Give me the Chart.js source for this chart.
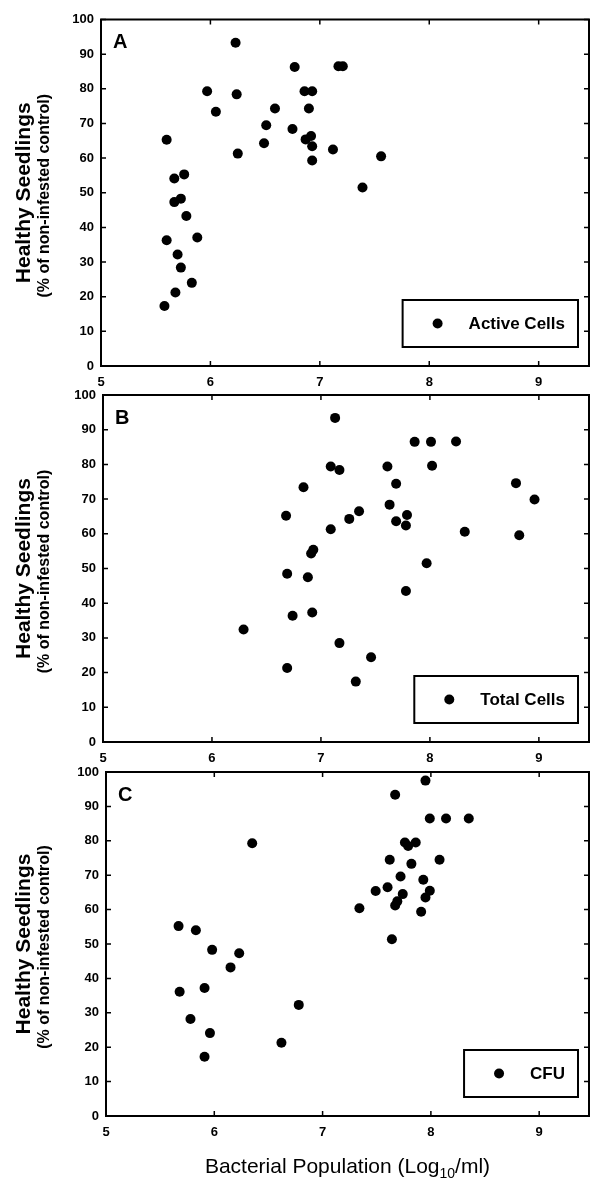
<!DOCTYPE html>
<html>
<head>
<meta charset="utf-8">
<script src="https://cdn.jsdelivr.net/npm/chart.js@4.4.1/dist/chart.umd.min.js"></script>
<style>
  html, body { margin: 0; padding: 0; background: #fff; }
  #wrap { position: relative; width: 594px; height: 1179px; }
  #wrap canvas { position: absolute; left: 0; top: 0; }
</style>
</head>
<body>
<div id="wrap">
  <canvas id="panelA" width="594" height="1179"></canvas>
  <canvas id="panelB" width="594" height="1179"></canvas>
  <canvas id="panelC" width="594" height="1179"></canvas>
</div>
<script>
// tick values shared by the three panels
const xTicks = [5, 6, 7, 8, 9];
const yTicks = [0, 10, 20, 30, 40, 50, 60, 70, 80, 90, 100];

// A - active cells: log10 cells/ml vs healthy seedlings (%)
const activeX = [6.23, 6.77, 7.17, 7.21, 5.97, 6.24, 6.86, 6.93, 6.05, 6.59, 6.90, 6.51,
  6.75, 5.60, 6.49, 6.87, 6.92, 6.93, 6.25, 7.12, 7.56, 6.93, 7.39, 5.76, 5.67, 5.67,
  5.73, 5.78, 5.88, 5.60, 5.70, 5.73, 5.83, 5.68, 5.58];
const activeY = [93.3, 86.3, 86.5, 86.5, 79.3, 78.4, 79.3, 79.3, 73.4, 74.3, 74.3, 69.5,
  68.4, 65.3, 64.3, 65.4, 66.4, 63.4, 61.3, 62.5, 60.5, 59.3, 51.5, 55.3, 54.1, 47.3,
  48.3, 43.3, 37.1, 36.3, 32.2, 28.4, 24.0, 21.2, 17.3];

// B - total cells
const totalX = [7.13, 7.86, 8.01, 8.24, 7.09, 7.17, 7.61, 8.02, 6.84, 7.69, 8.79, 8.96,
  6.68, 7.26, 7.35, 7.09, 7.63, 7.69, 7.79, 7.78, 8.32, 8.82, 6.93, 6.91, 7.97, 6.69,
  6.88, 7.78, 6.74, 6.92, 6.29, 7.17, 7.46, 6.69, 7.32];
const totalY = [93.4, 86.5, 86.5, 86.6, 79.4, 78.4, 79.4, 79.6, 73.4, 74.4, 74.6, 69.9,
  65.2, 64.3, 66.5, 61.3, 68.4, 63.6, 65.4, 62.4, 60.6, 59.6, 55.4, 54.3, 51.5, 48.5,
  47.5, 43.5, 36.4, 37.3, 32.4, 28.5, 24.4, 21.3, 17.4];

// C - colony forming units
const cfuX = [7.95, 7.67, 7.99, 8.14, 8.35, 6.35, 7.76, 7.79, 7.86, 7.62, 8.08, 7.82,
  7.72, 7.93, 7.49, 7.60, 7.74, 7.99, 7.95, 7.69, 7.67, 7.34, 7.91, 7.64, 5.67, 5.83,
  5.98, 6.23, 6.15, 5.68, 5.91, 6.78, 5.78, 5.96, 6.62, 5.91];
const cfuY = [97.5, 93.4, 86.5, 86.5, 86.5, 79.3, 79.5, 78.5, 79.5, 74.5, 74.5, 73.3,
  69.6, 68.7, 65.4, 66.5, 64.5, 65.5, 63.5, 62.4, 61.2, 60.4, 59.4, 51.4, 55.2, 54.0,
  48.3, 47.3, 43.2, 36.1, 37.2, 32.3, 28.2, 24.1, 21.3, 17.2];

const FONT = 'Liberation Sans, Arial, sans-serif';
const W = 594, H = 1179;

// frame with inward ticks, panel letter, y titles, legend box (and x title on last panel)
const framePlugin = {
  id: 'panelFrame',
  afterDraw(chart, args, opts) {
    const { ctx, chartArea: a } = chart;
    const x = chart.scales.x, y = chart.scales.y;
    ctx.save();
    ctx.strokeStyle = '#000';
    ctx.fillStyle = '#000';
    ctx.lineWidth = 2;
    ctx.strokeRect(a.left, a.top, a.right - a.left, a.bottom - a.top);

    ctx.lineWidth = 1.5;
    ctx.beginPath();
    xTicks.forEach(v => {
      const px = x.getPixelForValue(v);
      ctx.moveTo(px, a.bottom); ctx.lineTo(px, a.bottom - 5);
      ctx.moveTo(px, a.top); ctx.lineTo(px, a.top + 5);
    });
    yTicks.forEach(v => {
      const py = y.getPixelForValue(v);
      ctx.moveTo(a.left, py); ctx.lineTo(a.left + 5, py);
      ctx.moveTo(a.right, py); ctx.lineTo(a.right - 5, py);
    });
    ctx.stroke();

    // panel letter
    ctx.font = 'bold 20px ' + FONT;
    ctx.textAlign = 'left';
    ctx.textBaseline = 'middle';
    ctx.fillText(opts.letter, a.left + 12, a.top + 23);

    // rotated y titles
    const cy = (a.top + a.bottom) / 2;
    ctx.save();
    ctx.translate(24, cy);
    ctx.rotate(-Math.PI / 2);
    ctx.textAlign = 'center';
    ctx.font = 'bold 21px ' + FONT;
    ctx.fillText('Healthy Seedlings', 0, 0);
    ctx.restore();
    ctx.save();
    ctx.translate(45, cy + 3);
    ctx.rotate(-Math.PI / 2);
    ctx.textAlign = 'center';
    ctx.font = 'bold 16px ' + FONT;
    ctx.fillText('(% of non-infested control)', 0, 0);
    ctx.restore();

    // legend box
    ctx.font = 'bold 17px ' + FONT;
    const tw = ctx.measureText(opts.label).width;
    const bw = 66 + tw + 13, bh = 47;
    const bx = a.right - 11 - bw, by = a.bottom - 19 - bh;
    ctx.lineWidth = 2;
    ctx.strokeRect(bx, by, bw, bh);
    ctx.beginPath();
    ctx.arc(bx + 35, by + bh / 2, 5, 0, Math.PI * 2);
    ctx.fill();
    ctx.textAlign = 'left';
    ctx.fillText(opts.label, bx + 66, by + bh / 2 + 1);

    // shared x axis title under the last panel
    if (opts.xTitle) {
      const cx = (a.left + a.right) / 2;
      const base = 1173;
      ctx.textBaseline = 'alphabetic';
      ctx.font = '21px ' + FONT;
      const p1 = 'Bacterial Population (Log', p2 = '10', p3 = '/ml)';
      const w1 = ctx.measureText(p1).width, w3 = ctx.measureText(p3).width;
      ctx.font = '14px ' + FONT;
      const w2 = ctx.measureText(p2).width;
      let sx = cx - (w1 + w2 + w3) / 2;
      ctx.font = '21px ' + FONT;
      ctx.fillText(p1, sx, base);
      ctx.font = '14px ' + FONT;
      ctx.fillText(p2, sx + w1, base + 5);
      ctx.font = '21px ' + FONT;
      ctx.fillText(p3, sx + w1 + w2, base);
    }
    ctx.restore();
  }
};

const tickFont = { family: FONT, size: 13, weight: 'bold' };

function makePanel(id, letter, label, xs, ys, area, xTitle) {
  const pts = xs.map((v, i) => ({ x: v, y: ys[i] }));
  return new Chart(document.getElementById(id), {
    type: 'scatter',
    data: {
      datasets: [{
        label: label,
        data: pts,
        backgroundColor: '#000',
        borderColor: '#000',
        borderWidth: 0,
        pointRadius: 5,
        pointHoverRadius: 5
      }]
    },
    options: {
      responsive: false,
      animation: false,
      events: [],
      layout: { padding: { left: 0, right: W - area.right, top: area.top, bottom: H - area.bottom - 30 } },
      plugins: {
        legend: { display: false },
        tooltip: { enabled: false },
        panelFrame: { letter: letter, label: label, xTitle: !!xTitle }
      },
      scales: {
        x: {
          type: 'linear', min: 5, max: 9.46,
          afterBuildTicks: s => { s.ticks = xTicks.map(v => ({ value: v })); },
          afterFit: s => { s.height = 30; },
          grid: { display: false, drawTicks: false },
          border: { display: false },
          ticks: { padding: 9, color: '#000', font: tickFont }
        },
        y: {
          type: 'linear', min: 0, max: 100,
          afterBuildTicks: s => { s.ticks = yTicks.map(v => ({ value: v })); },
          afterFit: s => { s.width = area.left; },
          grid: { display: false, drawTicks: false },
          border: { display: false },
          ticks: { padding: 7, color: '#000', font: tickFont }
        }
      }
    },
    plugins: [framePlugin]
  });
}

makePanel('panelA', 'A', 'Active Cells', activeX, activeY, { left: 101, right: 592, top: 19.5, bottom: 366 });
makePanel('panelB', 'B', 'Total Cells', totalX, totalY, { left: 103, right: 593, top: 395, bottom: 742 });
makePanel('panelC', 'C', 'CFU', cfuX, cfuY, { left: 106, right: 593, top: 772, bottom: 1116 }, true);
</script>
</body>
</html>
